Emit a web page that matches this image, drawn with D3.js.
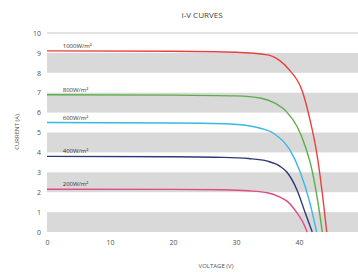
<!DOCTYPE html>
<html lang="en">
<head>
<meta charset="UTF-8">
<title>I-V Curves</title>
<script src="https://d3js.org/d3.v7.min.js"></script>
<style>
  body { margin: 0; background: #fff; }
  text { font-family: "Open Sans", "Liberation Sans", sans-serif; }
</style>
</head>
<body>
<script>
// series: [voltage, current]
const irradiance = ["1000W/m²", "800W/m²", "600W/m²", "400W/m²", "200W/m²"];
const colors = ["#e8413f", "#5cae4a", "#3bb8e2", "#2e3a78", "#e04a86"];

const red = [[0,9.1],[20,9.08],[30,9.03],[35,8.9],[37,8.6],[38.6,8.1],[40.5,7.1],[41.7,5.7],[42.8,4.0],[43.6,2.2],[44.4,0]];
const green = [[0,6.9],[20,6.88],[30,6.84],[34,6.72],[36,6.5],[38,6.05],[39.7,5.3],[41,4.3],[42,3.2],[43,1.5],[43.7,0]];
const cyan = [[0,5.5],[20,5.48],[28,5.44],[32,5.34],[34,5.2],[36,4.95],[38.6,4.1],[40.2,3.0],[41.7,1.5],[42.8,0]];
const navy = [[0,3.8],[20,3.78],[28,3.75],[32,3.69],[35,3.56],[37,3.3],[38.1,3.0],[39.7,2.1],[41,0.95],[42.1,0]];
const pink = [[0,2.15],[20,2.14],[28,2.12],[32,2.07],[35,1.97],[37,1.75],[38.1,1.55],[39.7,0.95],[40.6,0.5],[41.3,0]];

const xTicks = [0, 10, 20, 30, 40, 50];
const yTicks = [0, 1, 2, 3, 4, 5, 6, 7, 8, 9, 10];

const series = [red, green, cyan, navy, pink];

const W = 358, H = 272;
const svg = d3.select("body").append("svg").attr("width", W).attr("height", H);

const x = d3.scaleLinear().domain([0, 50]).range([47, 362]);
const y = d3.scaleLinear().domain([0, 10]).range([232, 33]);

// alternating bands
const bands = svg.append("g");
for (let i = 0; i < 10; i += 2) {
  bands.append("rect")
    .attr("x", x(0)).attr("width", x(50) - x(0))
    .attr("y", y(i + 1)).attr("height", y(i) - y(i + 1))
    .attr("fill", "#d9d9d9");
}
svg.append("line")
  .attr("x1", x(0)).attr("x2", x(50))
  .attr("y1", y(10)).attr("y2", y(10))
  .attr("stroke", "#c8c8c8").attr("stroke-width", 1);

// axes
const xAxis = svg.append("g").attr("transform", `translate(0,${y(0)})`)
  .call(d3.axisBottom(x).tickValues(xTicks).tickSize(0).tickPadding(8));
const yAxis = svg.append("g").attr("transform", `translate(${x(0)},0)`)
  .call(d3.axisLeft(y).tickValues(yTicks).tickSize(0).tickPadding(6));
[xAxis, yAxis].forEach(a => {
  a.select(".domain").remove();
  a.selectAll("text").attr("fill", "#505050").style("font-size", "7px")
    .style("font-family", "'Open Sans', sans-serif");
});

// curves
const line = d3.line()
  .x(d => x(d[0])).y(d => y(d[1]))
  .curve(d3.curveMonotoneX);

svg.append("g").selectAll("path")
  .data(series)
  .join("path")
  .attr("d", line)
  .attr("fill", "none")
  .attr("stroke", (d, i) => colors[i])
  .attr("stroke-width", 1.4);

// irradiance labels
svg.append("g").selectAll("text")
  .data(series)
  .join("text")
  .attr("x", x(2.5))
  .attr("y", d => y(d[0][1]) - 3)
  .attr("fill", "#333")
  .style("font-size", "6px")
  .text((d, i) => irradiance[i]);

// titles
svg.append("text")
  .attr("x", 202).attr("y", 18)
  .attr("text-anchor", "middle")
  .attr("fill", "#404040")
  .style("font-size", "8px")
  .text("I-V CURVES");

svg.append("text")
  .attr("x", 216).attr("y", 268)
  .attr("text-anchor", "middle")
  .attr("fill", "#505050")
  .style("font-size", "6px")
  .text("VOLTAGE (V)");

svg.append("text")
  .attr("transform", "translate(19,132) rotate(-90)")
  .attr("text-anchor", "middle")
  .attr("fill", "#505050")
  .style("font-size", "6px")
  .text("CURRENT (A)");
</script>
</body>
</html>
